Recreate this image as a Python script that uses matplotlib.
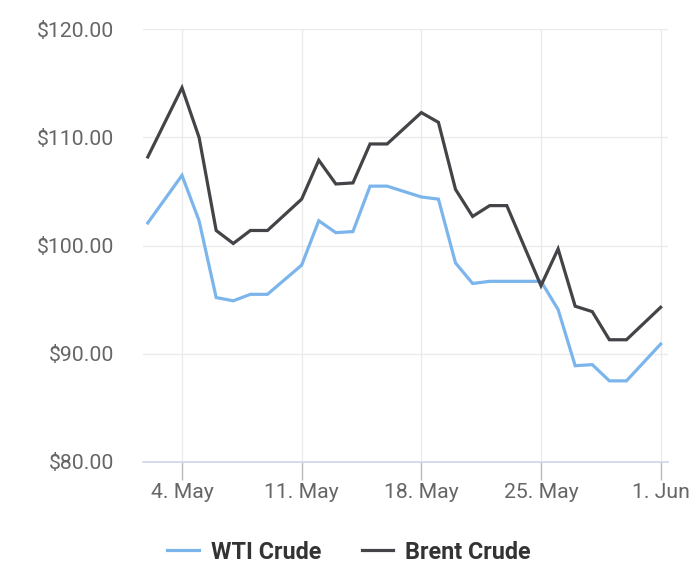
import datetime as dt
import matplotlib
matplotlib.use("Agg")
import matplotlib.pyplot as plt
import matplotlib.dates as mdates
from matplotlib.ticker import FuncFormatter, MultipleLocator

plt.rcParams['font.family'] = ['Roboto', 'DejaVu Sans']

# donnees (mai-juin)
jours = [(5, 2), (5, 4), (5, 5), (5, 6), (5, 7), (5, 8), (5, 9),
         (5, 11), (5, 12), (5, 13), (5, 14), (5, 15), (5, 16),
         (5, 18), (5, 19), (5, 20), (5, 21), (5, 22), (5, 23),
         (5, 25), (5, 26), (5, 27), (5, 28), (5, 29), (5, 30), (6, 1)]
wti = [102.1, 106.5, 102.3, 95.2, 94.9, 95.5, 95.5,
       98.2, 102.3, 101.2, 101.3, 105.5, 105.5,
       104.5, 104.3, 98.4, 96.5, 96.7, 96.7,
       96.7, 94.1, 88.9, 89.0, 87.5, 87.5, 90.9]
brent = [108.2, 114.6, 110.0, 101.4, 100.2, 101.4, 101.4,
         104.3, 107.9, 105.7, 105.8, 109.4, 109.4,
         112.3, 111.4, 105.2, 102.7, 103.7, 103.7,
         96.3, 99.7, 94.4, 93.9, 91.3, 91.3, 94.3]
ticks_x = [(5, 4), (5, 11), (5, 18), (5, 25), (6, 1)]

dates = [dt.datetime(2022, m, d) for m, d in jours]
dates_ticks = [dt.datetime(2022, m, d) for m, d in ticks_x]

fig = plt.figure(figsize=(7, 5.79), dpi=100)
ax = fig.add_axes([0.2047, 0.2021, 0.7491, 0.7473])

ax.plot(dates, wti, color='#7cb5ec', lw=2.3, label='WTI Crude', solid_joinstyle='miter')
ax.plot(dates, brent, color='#434348', lw=2.3, label='Brent Crude', solid_joinstyle='miter')

x0 = dt.datetime(2022, 5, 4) - dt.timedelta(days=2.264)
x1 = dt.datetime(2022, 6, 1) + dt.timedelta(days=0.41)
ax.set_xlim(x0, x1)
ax.set_ylim(80, 120)

ax.set_xticks(dates_ticks)
ax.xaxis.set_major_formatter(FuncFormatter(
    lambda v, p: "{}. {}".format(mdates.num2date(v).day, mdates.num2date(v).strftime('%b'))))
ax.yaxis.set_major_locator(MultipleLocator(10))
ax.yaxis.set_major_formatter(FuncFormatter(lambda v, p: "${:.2f}".format(v)))

ax.grid(True, color='#ebebeb', lw=1)
ax.set_axisbelow(True)
for s in ['top', 'right', 'left']:
    ax.spines[s].set_visible(False)
ax.spines['bottom'].set_color('#ccd6eb')
ax.spines['bottom'].set_linewidth(1.2)

ax.tick_params(axis='y', length=0, pad=21, labelsize=15.3, labelcolor='#666666')
ax.tick_params(axis='x', length=13, width=1, color='#b8b8b8', pad=2,
               labelsize=15.3, labelcolor='#666666')

leg = fig.legend(loc='center', bbox_to_anchor=(0.4986, 0.0466), ncol=2, frameon=False,
                 handlelength=1.35, handletextpad=0.5, columnspacing=1.75,
                 prop={'weight': 'bold', 'size': 16.8})
for t in leg.get_texts():
    t.set_color('#333333')

fig.savefig('out.png', dpi=100)
